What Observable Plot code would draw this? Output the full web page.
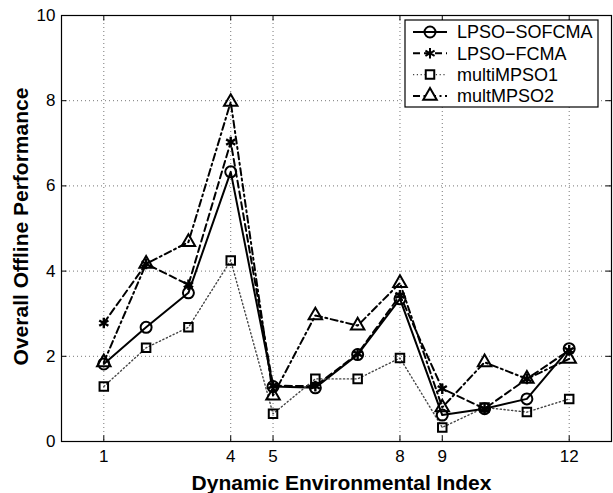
<!DOCTYPE html>
<html>
<head>
<meta charset="utf-8">
<script src="https://cdn.jsdelivr.net/npm/d3@7"></script>
<script src="https://cdn.jsdelivr.net/npm/@observablehq/plot@0.6"></script>
<style>
  body { margin: 0; background: #fff; }
  #chart svg { font-family: "Liberation Sans", Arial, Helvetica, sans-serif; }
</style>
</head>
<body>
<div id="chart"></div>
<script>
const envIndex = [1, 2, 3, 4, 5, 6, 7, 8, 9, 10, 11, 12];
const lpsoSofcma = [1.82, 2.68, 3.49, 6.33, 1.29, 1.26, 2.04, 3.35, 0.62, 0.77, 1.00, 2.18];
const lpsoFcma   = [2.78, 4.17, 3.68, 7.03, 1.31, 1.30, 2.06, 3.43, 1.24, 0.77, 1.47, 2.14];
const multiMpso1 = [1.29, 2.20, 2.68, 4.25, 0.65, 1.47, 1.47, 1.96, 0.33, 0.80, 0.69, 1.00];
const multMpso2  = [1.86, 4.17, 4.68, 7.97, 1.08, 2.96, 2.72, 3.72, 0.80, 1.86, 1.47, 1.94];

const seriesNames = ["LPSO\u2212SOFCMA", "LPSO\u2212FCMA", "multiMPSO1", "multMPSO2"];
const seriesValues = [lpsoSofcma, lpsoFcma, multiMpso1, multMpso2];
const xTicks = [1, 4, 5, 8, 9, 12];
const yTicks = [0, 2, 4, 6, 8, 10];
const xLabel = "Dynamic Environmental Index";
const yLabel = "Overall Offline Performance";

const styles = [
  {symbol: "circle",   dash: null,      lineColor: "#000", lw: 2,   r: 5.5},
  {symbol: "asterisk", dash: "7,4",     lineColor: "#000", lw: 2,   r: 5},
  {symbol: "square",   dash: "1.2,2.6", lineColor: "#444", lw: 1.4, r: 4.8},
  {symbol: "triangle", dash: "7,3.5,2,3.5", lineColor: "#000", lw: 2, r: 5}
];

const tables = seriesValues.map((vals, s) => envIndex.map((x, i) => ({x, y: vals[i], s: seriesNames[s]})));

const lineMarks = tables.map((t, s) => Plot.line(t, {
  x: "x", y: "y", stroke: styles[s].lineColor, strokeWidth: styles[s].lw,
  strokeDasharray: styles[s].dash
}));
const dotOrder = [2, 0, 3, 1];
const dotMarks = dotOrder.map(s => Plot.dot(tables[s], {
  x: "x", y: "y", symbol: styles[s].symbol, r: styles[s].r,
  stroke: "#000", strokeWidth: s === 1 ? 2.4 : 2, fill: "none"
}));

const plot = Plot.plot({
  width: 613,
  height: 493,
  marginLeft: 61,
  marginRight: 2,
  marginTop: 15,
  marginBottom: 52,
  x: {domain: [0, 13]},
  y: {domain: [0, 10]},
  style: {fontFamily: "Liberation Sans, Arial, Helvetica, sans-serif", background: "#fff"},
  marks: [
    Plot.ruleX(xTicks, {stroke: "#777", strokeWidth: 1, strokeDasharray: "1,3"}),
    Plot.ruleY(yTicks.filter(v => v > 0 && v < 10), {stroke: "#777", strokeWidth: 1, strokeDasharray: "1,3"}),
    ...lineMarks,
    ...dotMarks,
    Plot.ruleX(xTicks, {y1: 0, y2: 0.13, stroke: "#000", strokeWidth: 1}),
    Plot.ruleX(xTicks, {y1: 9.87, y2: 10, stroke: "#000", strokeWidth: 1}),
    Plot.ruleY(yTicks, {x1: 0, x2: 0.13, stroke: "#000", strokeWidth: 1}),
    Plot.ruleY(yTicks, {x1: 12.87, x2: 13, stroke: "#000", strokeWidth: 1}),
    Plot.frame({stroke: "#000", strokeWidth: 1.2}),
    Plot.axisX(xTicks, {tickSize: 0, tickPadding: 8, fontSize: 17, label: null, tickFormat: d => String(d), fill: "#000"}),
    Plot.axisY(yTicks, {tickSize: 0, tickPadding: 6, fontSize: 17, label: null, tickFormat: d => String(d), fill: "#000"}),
    Plot.text([xLabel], {text: d => d, frameAnchor: "bottom", lineAnchor: "middle", textAnchor: "middle", dy: 42, dx: 5, fontSize: 21, fontWeight: "bold", fill: "#000"}),
    Plot.text([yLabel], {text: d => d, frameAnchor: "left", lineAnchor: "middle", textAnchor: "middle", rotate: -90, dx: -40, dy: -2, fontSize: 21, fontWeight: "bold", fill: "#000"})
  ]
});

document.getElementById("chart").appendChild(plot);

// Legend (inside the plot area, top right)
const svg = d3.select(plot);
const lg = svg.append("g").attr("font-family", "Liberation Sans, Arial, Helvetica, sans-serif").attr("text-anchor", "start");
lg.append("rect").attr("x", 405).attr("y", 20).attr("width", 193).attr("height", 87)
  .attr("fill", "#fff").attr("stroke", "#000").attr("stroke-width", 1.2);
const symbolTypes = {circle: d3.symbolCircle, asterisk: d3.symbolAsterisk, square: d3.symbolSquare, triangle: d3.symbolTriangle};
seriesNames.forEach((name, s) => {
  const y = 32 + s * 21.3;
  const st = styles[s];
  lg.append("line").attr("x1", 413).attr("x2", 447).attr("y1", y).attr("y2", y)
    .attr("stroke", st.lineColor).attr("stroke-width", st.lw)
    .attr("stroke-dasharray", st.dash);
  lg.append("path").attr("transform", `translate(430,${y})`)
    .attr("d", d3.symbol(symbolTypes[st.symbol], st.r * st.r * Math.PI)())
    .attr("fill", st.symbol === "circle" ? "none" : "#fff").attr("stroke", "#000").attr("stroke-width", 2);
  lg.append("text").attr("x", 457).attr("y", y).attr("dy", "0.35em")
    .attr("text-anchor", "start")
    .attr("font-size", 18).attr("fill", "#000").text(name);
});
</script>
</body>
</html>
